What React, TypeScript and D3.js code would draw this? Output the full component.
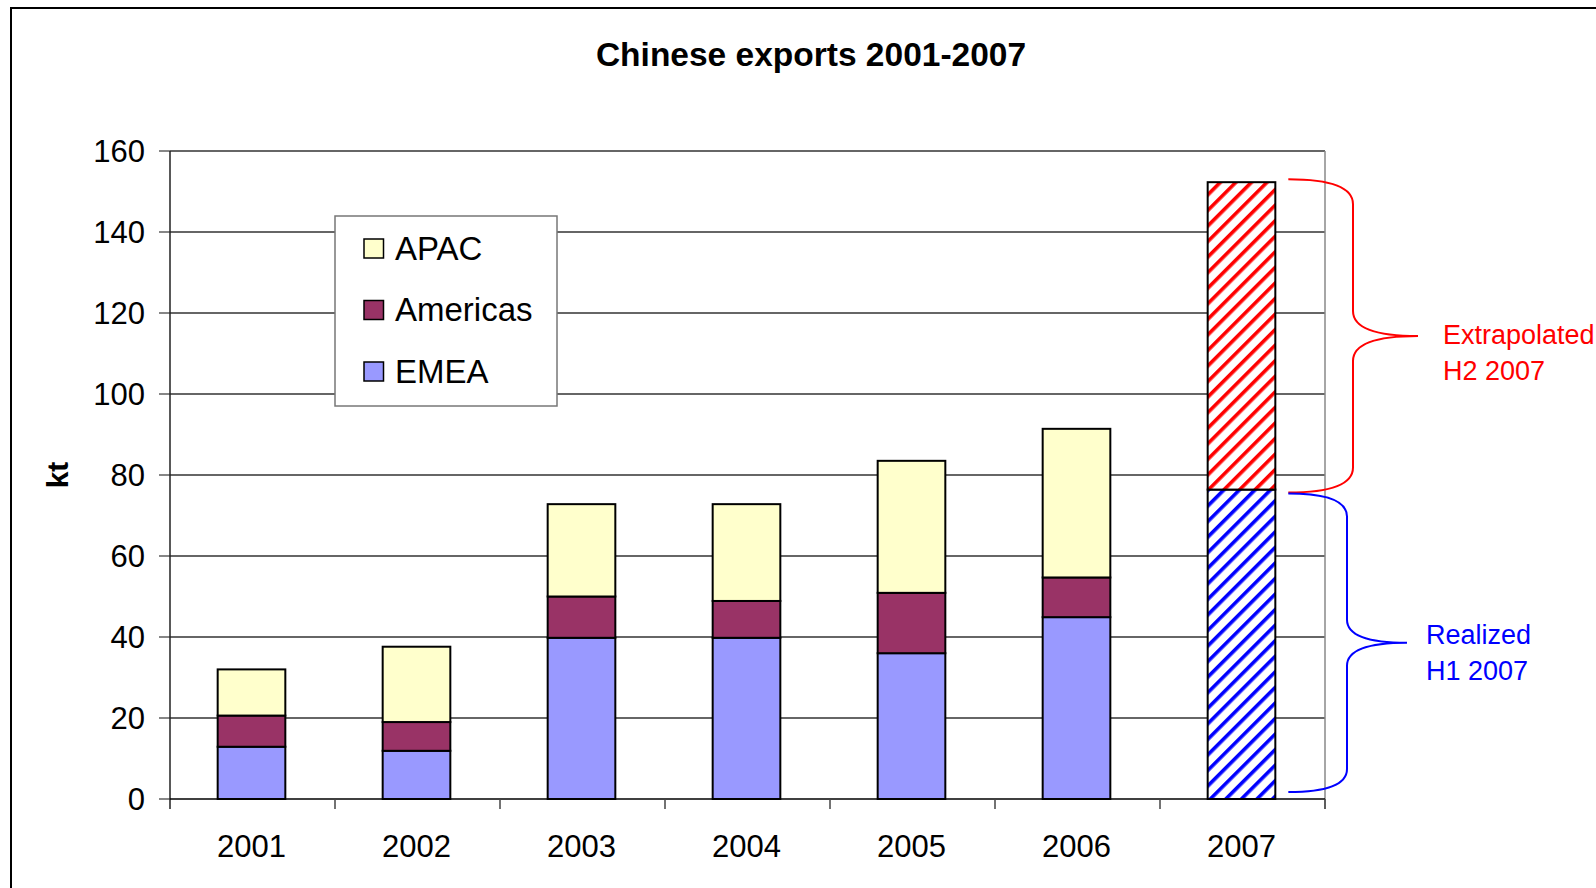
import React from "react";
import * as d3 from "d3";

const years = ["2001", "2002", "2003", "2004", "2005", "2006", "2007"];
const emea = [12.9, 11.9, 39.8, 39.8, 36.0, 44.9];
const americas = [7.7, 7.1, 10.2, 9.1, 14.9, 9.8];
const apac = [11.4, 18.6, 22.8, 23.9, 32.6, 36.7];
const h1_2007 = 76.4;
const h2_2007 = 75.9;
const yTicks = [0, 20, 40, 60, 80, 100, 120, 140, 160];
const seriesNames = ["APAC", "Americas", "EMEA"];
const seriesColors: Record<string, string> = {
  APAC: "#FFFFCC",
  Americas: "#993366",
  EMEA: "#9999FF",
};

const W = 1596;
const H = 888;
const FONT = "'Liberation Sans', Arial, Helvetica, sans-serif";

export default function App() {
  const x = d3.scaleBand<string>().domain(years).range([170, 1325]).padding(0);
  const y = d3.scaleLinear().domain([0, 160]).range([799, 151]);
  const step = x.step();
  const barW = step * 0.41;
  const bx = (yr: string) => (x(yr) as number) + step / 2 - barW / 2 - 1;

  const stackRows = years.slice(0, 6).map((yr, i) => ({
    year: yr,
    EMEA: emea[i],
    Americas: americas[i],
    APAC: apac[i],
  }));
  const stack = d3.stack<any>().keys(["EMEA", "Americas", "APAC"])(stackRows);

  const y07 = "2007";
  const bar07x = bx(y07);

  const brace = (
    x0: number,
    xv: number,
    xt: number,
    yTop: number,
    yBot: number,
    r: number
  ) => {
    const yMid = (yTop + yBot) / 2;
    return `M${x0},${yTop} Q${xv},${yTop} ${xv},${yTop + r} L${xv},${yMid - r} Q${xv},${yMid} ${xt},${yMid} Q${xv},${yMid} ${xv},${yMid + r} L${xv},${yBot - r} Q${xv},${yBot} ${x0},${yBot}`;
  };

  const braceX0 = bar07x + barW + 13;
  const plotLeft = 170;
  const plotRight = 1325;

  return (
    <svg
      width={W}
      height={H}
      style={{ position: "absolute", left: 0, top: 0, background: "#fff" }}
      fontFamily={FONT}
    >
      <defs>
        <pattern
          id="hatchRed"
          width="11"
          height="11"
          patternUnits="userSpaceOnUse"
          patternTransform="rotate(45)"
        >
          <rect width="11" height="11" fill="#fff" />
          <rect x="0" y="0" width="3.6" height="11" fill="#FF0000" />
        </pattern>
        <pattern
          id="hatchBlue"
          width="11"
          height="11"
          patternUnits="userSpaceOnUse"
          patternTransform="rotate(45)"
        >
          <rect width="11" height="11" fill="#fff" />
          <rect x="0" y="0" width="3.6" height="11" fill="#0000FF" />
        </pattern>
      </defs>
      <rect x={0} y={0} width={W} height={H} fill="#fff" />
      {/* outer chart border */}
      <rect x={11} y={8} width={W + 20} height={H + 20} fill="none" stroke="#000" strokeWidth={2} />

      {/* title */}
      <text x={811} y={66} textAnchor="middle" fontSize={33.5} fontWeight="bold" fill="#000">
        Chinese exports 2001-2007
      </text>

      {/* gridlines */}
      {yTicks.filter((t) => t > 0).map((t) => (
        <line key={t} x1={plotLeft} x2={plotRight} y1={y(t)} y2={y(t)} stroke="#333" strokeWidth={1.3} />
      ))}
      {/* right border */}
      <line x1={plotRight} x2={plotRight} y1={y(160)} y2={y(0) + 10} stroke="#888" strokeWidth={1.5} />

      {/* y ticks and labels */}
      {yTicks.map((t) => (
        <g key={t}>
          <line x1={159} x2={plotLeft} y1={y(t)} y2={y(t)} stroke="#444" strokeWidth={1.3} />
          <text x={145} y={y(t)} dy="0.36em" textAnchor="end" fontSize={31} fill="#000">
            {t}
          </text>
        </g>
      ))}
      <text
        transform={`translate(68,${y(80)}) rotate(-90)`}
        textAnchor="middle"
        fontSize={30}
        fontWeight="bold"
        fill="#000"
      >
        kt
      </text>

      {/* stacked bars 2001-2006 */}
      {stack.map((s) =>
        s.map((d, i) => (
          <rect
            key={s.key + i}
            x={bx(years[i])}
            y={y(d[1])}
            width={barW}
            height={y(d[0]) - y(d[1])}
            fill={seriesColors[s.key]}
            stroke="#000"
            strokeWidth={2}
          />
        ))
      )}

      {/* 2007 hatched bar */}
      <rect
        x={bar07x}
        y={y(h1_2007)}
        width={barW}
        height={y(0) - y(h1_2007)}
        fill="url(#hatchBlue)"
        stroke="#000"
        strokeWidth={2}
      />
      <rect
        x={bar07x}
        y={y(h1_2007 + h2_2007)}
        width={barW}
        height={y(h1_2007) - y(h1_2007 + h2_2007)}
        fill="url(#hatchRed)"
        stroke="#000"
        strokeWidth={2}
      />

      {/* axes */}
      <line x1={plotLeft} x2={plotLeft} y1={y(160)} y2={y(0) + 10} stroke="#222" strokeWidth={1.5} />
      <line x1={plotLeft} x2={plotRight} y1={y(0)} y2={y(0)} stroke="#000" strokeWidth={1.5} />
      {years.map((yr) => (
        <line
          key={"t" + yr}
          x1={(x(yr) as number) + step}
          x2={(x(yr) as number) + step}
          y1={y(0)}
          y2={y(0) + 10}
          stroke="#444"
          strokeWidth={1.5}
        />
      ))}
      {years.map((yr) => (
        <text
          key={"l" + yr}
          x={(x(yr) as number) + step / 2 - 1}
          y={857}
          textAnchor="middle"
          fontSize={31}
          fill="#000"
        >
          {yr}
        </text>
      ))}

      {/* legend */}
      <rect x={335} y={216} width={222} height={190} fill="#fff" stroke="#777" strokeWidth={1.5} />
      {seriesNames.map((n, i) => (
        <g key={n} transform={`translate(364,${239 + i * 61.5})`}>
          <rect x={0} y={0} width={19.5} height={19} fill={seriesColors[n]} stroke="#000" strokeWidth={1.5} />
          <text x={31} y={20.5} fontSize={33} fill="#000">
            {n}
          </text>
        </g>
      ))}

      {/* braces */}
      <path
        d={brace(braceX0, 1353, 1418, y(h1_2007 + h2_2007) - 3, y(h1_2007) + 3, 25)}
        fill="none"
        stroke="#FF0000"
        strokeWidth={2}
      />
      <path
        d={brace(braceX0, 1347, 1407, y(h1_2007) + 4, y(0) - 7, 23)}
        fill="none"
        stroke="#0000FF"
        strokeWidth={2}
      />
      <text x={1443} y={344} fontSize={27} fill="#FF0000">
        <tspan x={1443}>Extrapolated</tspan>
        <tspan x={1443} dy={36}>H2 2007</tspan>
      </text>
      <text x={1426} y={644} fontSize={27} fill="#0000FF">
        <tspan x={1426}>Realized</tspan>
        <tspan x={1426} dy={36}>H1 2007</tspan>
      </text>
    </svg>
  );
}
